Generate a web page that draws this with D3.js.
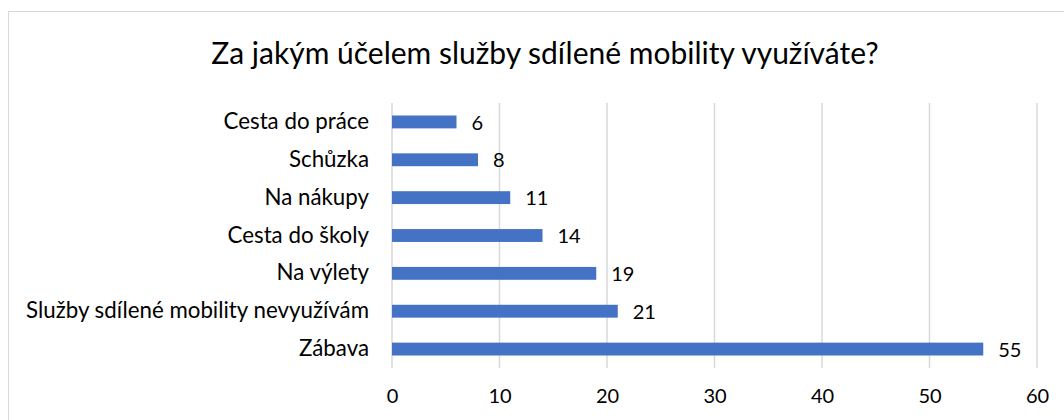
<!DOCTYPE html>
<html>
<head>
<meta charset="utf-8">
<script src="https://cdn.jsdelivr.net/npm/d3@7"></script>
<style>
  body { margin: 0; background: #fff; }
  svg text { font-family: Lato, "Open Sans", sans-serif; fill: #000; }
</style>
</head>
<body>
<div id="chart"></div>
<script>
const categories = ['Cesta do práce', 'Schůzka', 'Na nákupy', 'Cesta do školy', 'Na výlety', 'Služby sdílené mobility nevyužívám', 'Zábava']
const values = [6, 8, 11, 14, 19, 21, 55]
const ticks = [0, 10, 20, 30, 40, 50, 60]
const title = 'Za jakým účelem služby sdílené mobility využíváte?'

const width = 1064, height = 420
const margin = { top: 103, right: 27, bottom: 52, left: 392 }

const svg = d3.select('#chart').append('svg')
    .attr('width', width)
    .attr('height', height)

// chart frame
svg.append('rect')
    .attr('x', 8.5).attr('y', 11.5)
    .attr('width', 1060).attr('height', 420)
    .attr('fill', 'none')
    .attr('stroke', '#d9d9d9')

svg.append('text')
    .attr('x', 545).attr('y', 64)
    .attr('text-anchor', 'middle')
    .style('font-size', '30px')
    .text(title)

const x = d3.scaleLinear()
    .domain([0, 60])
    .range([margin.left, width - margin.right])

const y = d3.scaleBand()
    .domain(categories)
    .range([margin.top, height - margin.bottom])
    .paddingInner(0.66)
    .paddingOuter(0.33)

// gridlines
svg.append('g')
    .selectAll('line')
    .data(ticks)
    .join('line')
    .attr('x1', d => x(d)).attr('x2', d => x(d))
    .attr('y1', margin.top).attr('y2', height - margin.bottom)
    .attr('stroke', '#d9d9d9')
    .attr('stroke-width', 1.5)

// x axis tick labels
const xAxis = svg.append('g')
    .attr('transform', `translate(0,${height - margin.bottom})`)
    .call(d3.axisBottom(x).tickValues(ticks).tickSize(0).tickPadding(21))
xAxis.select('.domain').remove()
xAxis.selectAll('text').style('font-size', '20px').attr('fill', '#000')

// y axis category labels
const yAxis = svg.append('g')
    .attr('transform', `translate(${margin.left},0)`)
    .call(d3.axisLeft(y).tickSize(0).tickPadding(23))
yAxis.select('.domain').remove()
yAxis.selectAll('text').style('font-size', '22.3px').attr('fill', '#000')

const rows = categories.map((c, i) => ({ name: c, value: values[i] }))

svg.append('g')
    .selectAll('rect')
    .data(rows)
    .join('rect')
    .attr('x', x(0))
    .attr('y', d => y(d.name))
    .attr('width', d => x(d.value) - x(0))
    .attr('height', y.bandwidth())
    .attr('fill', '#4472c4')

svg.append('g')
    .selectAll('text')
    .data(rows)
    .join('text')
    .attr('x', d => x(d.value) + 15)
    .attr('y', d => y(d.name) + y.bandwidth() / 2)
    .attr('dy', '0.38em')
    .style('font-size', '20px')
    .text(d => d.value)
</script>
</body>
</html>
